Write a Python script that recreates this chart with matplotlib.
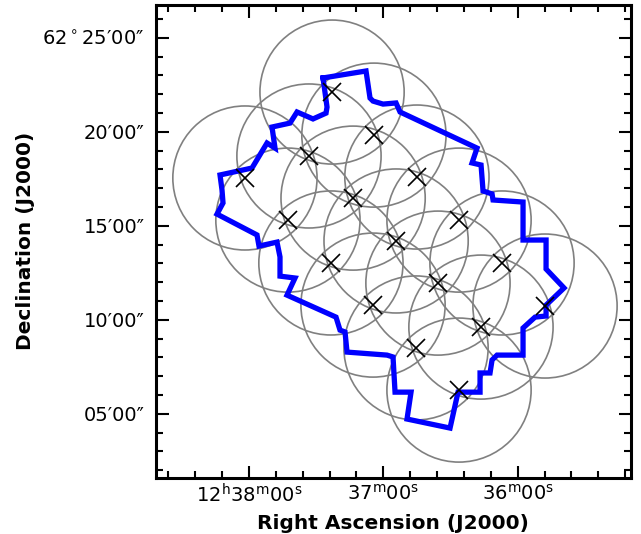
import matplotlib
matplotlib.use("Agg")
import matplotlib.pyplot as plt
from matplotlib.patches import Ellipse

# ---- data (RA in seconds after 12h36m00s, Dec in arcmin after +62 deg) ----
pointing_ra = [82.9, 64.2, 121.8, 93.2, 45.0, 73.5, 102.6, 26.2, 54.3,
               83.4, 7.0, 35.6, 64.6, -12.2, 16.4, 45.4, 26.2]
pointing_dec = [22.11, 19.82, 17.54, 18.71, 17.59, 16.47, 15.30, 15.30, 14.19,
                13.02, 13.02, 11.95, 10.78, 10.73, 9.61, 8.50, 6.26]
beam_radius_ra = 32.2      # seconds of RA
beam_radius_dec = 3.83     # arcmin

outline_ra = [86.93, 67.73, 65.94, 64.60, 60.13, 54.33, 52.54, 18.15, 20.38, 16.36,
              15.47, 11.45, 11.01, -2.39, -2.39, -12.67, -12.67, -20.70, -12.67, -12.67,
              -7.75, -2.39, -2.39, 9.22, 11.45, 12.35, 16.81, 16.81, 26.64, 30.21,
              49.42, 47.63, 54.77, 55.67, 58.35, 76.21, 77.11, 79.34, 81.13, 103.01,
              99.44, 106.14, 106.14, 107.48, 115.52, 116.41, 134.27, 131.59, 132.04, 132.93,
              118.64, 111.94, 108.37, 109.71, 101.67, 98.54, 91.40, 85.59, 85.14, 86.93]
outline_dec = [22.86, 23.23, 21.79, 21.63, 21.47, 21.53, 21.05, 19.13, 18.34, 18.23,
               16.85, 16.69, 16.37, 16.26, 14.24, 14.24, 12.70, 11.69, 10.78, 10.20,
               10.14, 9.56, 8.12, 8.12, 7.86, 7.17, 7.17, 6.15, 6.15, 4.24,
               4.72, 6.15, 6.15, 8.02, 8.12, 8.28, 9.35, 9.45, 10.14, 11.31,
               12.22, 12.32, 13.34, 14.13, 13.92, 14.51, 15.62, 16.21, 16.90, 17.70,
               18.07, 19.40, 19.13, 20.25, 20.46, 21.05, 20.68, 20.99, 21.31, 22.86]

ra_ticks = [120, 60, 0]
ra_tick_labels = [r"12$^\mathrm{h}$38$^\mathrm{m}$00$^\mathrm{s}$",
                  r"37$^\mathrm{m}$00$^\mathrm{s}$",
                  r"36$^\mathrm{m}$00$^\mathrm{s}$"]
dec_ticks = [5, 10, 15, 20, 25]
dec_tick_labels = ["05′00″", "10′00″", "15′00″", "20′00″", r"62$^\circ$25′00″"]

ra_minor = list(range(-48, 160, 12))
dec_minor = list(range(2, 27))

# ---- figure ----
fig = plt.figure(figsize=(6.41, 5.34), dpi=100)
ax = fig.add_axes([155.7 / 641, (534 - 477.7) / 534, (631 - 155.7) / 641, (477.7 - 5) / 534])

for r, d in zip(pointing_ra, pointing_dec):
    ax.add_patch(Ellipse((r, d), 2 * beam_radius_ra, 2 * beam_radius_dec,
                         fill=False, edgecolor="#808080", linewidth=1.2, zorder=2))

ax.plot(outline_ra, outline_dec, color="#0000ff", linewidth=3.8,
        solid_joinstyle="miter", zorder=3)
ax.plot(pointing_ra, pointing_dec, linestyle="none", marker="x", markersize=13,
        markeredgewidth=1.2, color="black", zorder=4)

ax.set_xlim(161.65, -50.6)
ax.set_ylim(1.60, 26.74)

ax.set_xticks(ra_ticks)
ax.set_xticklabels(ra_tick_labels)
ax.set_xticks(ra_minor, minor=True)
ax.set_yticks(dec_ticks)
ax.set_yticklabels(dec_tick_labels)
ax.set_yticks(dec_minor, minor=True)

ax.tick_params(which="both", direction="in", top=True, right=True, width=1.5,
               labelsize=14, colors="black")
ax.tick_params(which="major", length=9)
ax.tick_params(axis="x", which="major", pad=4)
ax.tick_params(axis="y", which="major", pad=8)
ax.tick_params(which="minor", length=5)
for s in ax.spines.values():
    s.set_linewidth(2.2)

ax.set_xlabel("Right Ascension (J2000)", fontsize=14.5, fontweight="bold", labelpad=5.5)
ax.set_ylabel("Declination (J2000)", fontsize=14.5, fontweight="bold", labelpad=5)

fig.savefig("out.png", dpi=100)
